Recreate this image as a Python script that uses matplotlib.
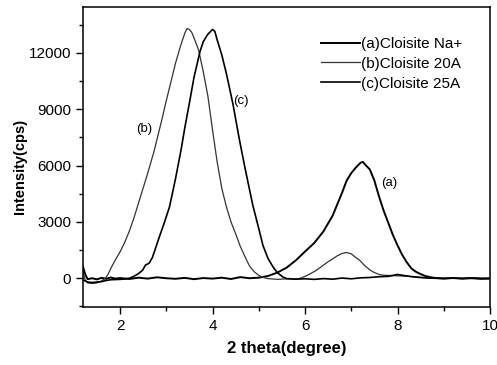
import matplotlib
matplotlib.use("Agg")
import matplotlib.pyplot as plt
from matplotlib.ticker import MultipleLocator

plt.rcParams['font.family'] = ['Liberation Sans', 'DejaVu Sans']

# (a) Cloisite Na+
xa = [1.2, 1.25, 1.3, 1.4, 1.5, 1.6, 1.7, 1.8, 1.9, 2.0, 2.2, 2.4, 2.6, 2.8, 3.0, 3.2, 3.4,
      3.6, 3.8, 4.0, 4.2, 4.4, 4.6, 4.8, 5.0, 5.2, 5.4, 5.6, 5.8, 6.0, 6.2, 6.4, 6.6, 6.8,
      6.9, 7.0, 7.1, 7.2, 7.25, 7.3, 7.4, 7.5, 7.6, 7.7, 7.8, 7.9, 8.0, 8.1, 8.2, 8.3, 8.4,
      8.5, 8.6, 8.7, 8.8, 9.0, 9.2, 9.4, 9.6, 9.8, 10.0]
ya = [600, 200, -50, 0, -60, 20, -30, 40, -20, 10, -40, 30, -20, 50, 0, -30, 20,
      -50, 10, -20, 30, -40, 60, 0, 30, 120, 300, 560, 950, 1420, 1880, 2500, 3350, 4550,
      5200, 5600, 5900, 6150, 6200, 6050, 5800, 5200, 4350, 3600, 2950, 2300, 1750, 1250, 850, 520, 340,
      220, 120, 60, 20, -10, 10, -20, 0, -30, -20]

# (b) Cloisite 20A
xb = [1.2, 1.25, 1.3, 1.4, 1.5, 1.6, 1.7, 1.75, 1.8, 1.9, 2.0, 2.1, 2.2, 2.3, 2.42, 2.5, 2.6,
      2.74, 2.8, 2.9, 3.0, 3.1, 3.2, 3.3, 3.4, 3.45, 3.5, 3.55, 3.6, 3.7, 3.8, 3.9, 4.0, 4.1,
      4.2, 4.3, 4.4, 4.51, 4.6, 4.73, 4.8, 4.9, 5.0, 5.1, 5.2, 5.4, 5.6, 5.8, 5.9, 6.0, 6.1,
      6.25, 6.4, 6.5, 6.61, 6.7, 6.8, 6.9, 7.0, 7.1, 7.18, 7.3, 7.4, 7.47, 7.6, 7.7, 7.8,
      8.0, 8.2, 8.4, 8.6, 8.8, 9.0, 9.2, 9.4, 9.6, 9.8, 10.0]
yb = [300, -100, -250, -280, -250, -150, 50, 250, 520, 980, 1400, 1900, 2500, 3200, 4165, 4800, 5600,
      6800, 7400, 8400, 9450, 10450, 11450, 12300, 13050, 13300, 13250, 13100, 12800, 12150, 11000, 9700, 7900, 6200,
      4800, 3800, 3000, 2300, 1700, 1000, 650, 350, 150, 40, -20, -60, -30, -40, 0, 100, 220,
      430, 700, 880, 1050, 1200, 1320, 1370, 1300, 1100, 960, 650, 450, 340, 200, 160, 150,
      130, 110, 60, 30, 0, -10, 10, -20, 0, -10, -30]

# (c) Cloisite 25A
xc = [1.2, 1.3, 1.4, 1.5, 1.6, 1.7, 1.8, 2.0, 2.1, 2.2, 2.3, 2.4, 2.49, 2.55, 2.63, 2.7, 2.85,
      2.95, 3.07, 3.2, 3.32, 3.4, 3.5, 3.6, 3.73, 3.8, 3.9, 4.0, 4.05, 4.1, 4.2, 4.3, 4.44,
      4.58, 4.7, 4.87, 5.02, 5.09, 5.2, 5.31, 5.4, 5.52, 5.6, 5.8, 6.0, 6.2, 6.4, 6.6, 6.8,
      7.0, 7.2, 7.4, 7.6, 7.8, 8.0, 8.2, 8.4, 8.6, 8.8, 9.0, 9.2, 9.4, 9.6, 9.8, 10.0]
yc = [-100, -200, -230, -200, -180, -120, -80, -60, -40, 0, 100, 250, 430, 700, 800, 1100, 2200,
      2900, 3800, 5300, 6835, 8000, 9330, 10700, 12080, 12600, 13000, 13250, 13150, 12700, 11900, 10900, 9300,
      7400, 5900, 3900, 2450, 1750, 1050, 600, 300, 70, -20, -50, -30, -60, -20, -50, 10,
      -30, 20, 40, 80, 100, 200, 120, 60, 20, 0, -20, 10, -10, 20, -10, 0]

fig = plt.figure(figsize=(4.97, 3.65), dpi=100)
ax = fig.add_axes([0.167, 0.159, 0.819, 0.822])

ax.plot(xa, ya, color='black', lw=1.4, label='(a)Cloisite Na+')
ax.plot(xb, yb, color='#333333', lw=0.9, label='(b)Cloisite 20A')
ax.plot(xc, yc, color='black', lw=1.2, label='(c)Cloisite 25A')

ax.set_xlim(1.2, 10)
ax.set_ylim(-1530, 14450)
ax.xaxis.set_major_locator(MultipleLocator(2))
ax.xaxis.set_minor_locator(MultipleLocator(1))
ax.yaxis.set_major_locator(MultipleLocator(3000))
ax.yaxis.set_minor_locator(MultipleLocator(1500))
ax.tick_params(which='major', direction='out', length=5, width=1, labelsize=11)
ax.tick_params(which='minor', direction='out', length=3, width=1)
for s in ax.spines.values():
    s.set_linewidth(1.1)

ax.set_xlabel('2 theta(degree)', fontsize=12, fontweight='bold', labelpad=6)
ax.set_ylabel('Intensity(cps)', fontsize=10.5, fontweight='bold')
ax.yaxis.set_label_coords(-0.138, 0.47)

ax.text(2.35, 7800, '(b)', fontsize=9.5)
ax.text(4.45, 9300, '(c)', fontsize=9.5)
ax.text(7.65, 4900, '(a)', fontsize=9.5)

ax.legend(loc='upper left', bbox_to_anchor=(321 / 497, 1 - 37 / 365), bbox_transform=fig.transFigure,
          frameon=False, fontsize=11, borderpad=0, borderaxespad=0,
          handlelength=2.55, handletextpad=0.05, labelspacing=0.38)

fig.savefig('out.png', dpi=100)
